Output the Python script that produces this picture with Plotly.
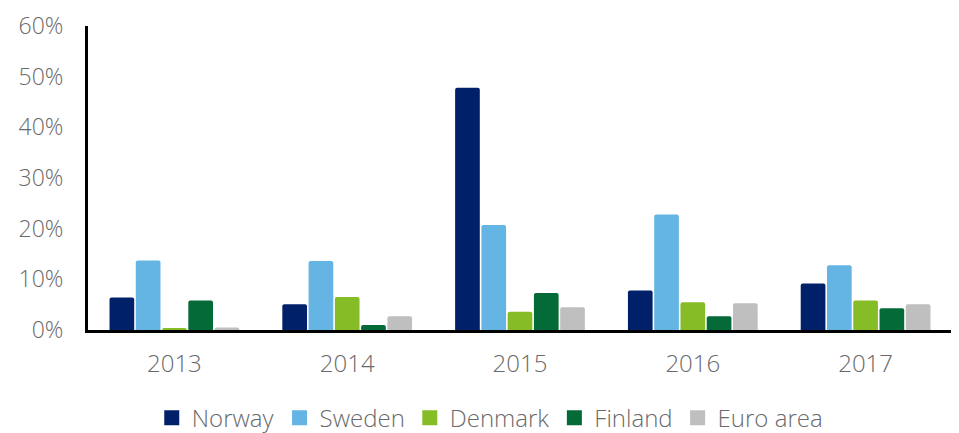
import plotly.graph_objects as go

years = ["2013", "2014", "2015", "2016", "2017"]
series_names = ["Norway", "Sweden", "Denmark", "Finland", "Euro area"]
norway = [6.4, 5.1, 47.8, 7.8, 9.2]
sweden = [13.7, 13.6, 20.7, 22.8, 12.8]
denmark = [0.4, 6.5, 3.6, 5.5, 5.8]
finland = [5.8, 1.0, 7.3, 2.7, 4.3]
euro_area = [0.5, 2.7, 4.5, 5.3, 5.1]
colors = ["#002169", "#65B5E4", "#86BC25", "#046A38", "#BFBFBF"]
y_ticks = [0, 10, 20, 30, 40, 50, 60]
y_labels = ["0%", "10%", "20%", "30%", "40%", "50%", "60%"]

values = [norway, sweden, denmark, finland, euro_area]

FONT = "Open Sans"
GRAY = "#6a6a6a"
FS = 24

fig = go.Figure()
for name, vals, col in zip(series_names, values, colors):
    fig.add_trace(go.Bar(
        x=years, y=vals, name=name, marker=dict(color=col, cornerradius=2, line=dict(width=0)),
        showlegend=False, hoverinfo="x+y+name",
    ))
for name, col in zip(series_names, colors):
    fig.add_trace(go.Scatter(
        x=[None], y=[None], mode="markers", name=name,
        marker=dict(symbol="square", size=15, color=col), showlegend=True,
    ))

# The page body adds an 8px offset, so the figure is 8px smaller than the window.
fig.update_layout(
    width=951, height=425,
    margin=dict(l=80, r=7, t=18, b=103, autoexpand=False),
    paper_bgcolor="white", plot_bgcolor="white",
    barmode="group", bargap=0.24, bargroupgap=0.06,
    font=dict(family=FONT, color=GRAY, size=FS, weight=300),
    showlegend=True,
    legend=dict(orientation="h", x=0.465, xanchor="center", y=-0.29, yanchor="middle",
                font=dict(family=FONT, size=FS, color=GRAY, weight=300),
                itemwidth=30, tracegroupgap=0, traceorder="normal"),
    xaxis=dict(showline=True, linecolor="black", linewidth=3, ticks="", showgrid=False,
               automargin=False, ticklabeloverflow="allow",
               ticklabelstandoff=10, tickfont=dict(family=FONT, size=FS, color=GRAY, weight=300)),
    yaxis=dict(range=[0, 60], tickvals=y_ticks, ticktext=y_labels, showline=True,
               automargin=False, ticklabeloverflow="allow",
               linecolor="black", linewidth=3, ticks="", showgrid=False, zeroline=False,
               ticklabelstandoff=17, tickfont=dict(family=FONT, size=23, color=GRAY, weight=300)),
)

fig.write_html("out.html")
